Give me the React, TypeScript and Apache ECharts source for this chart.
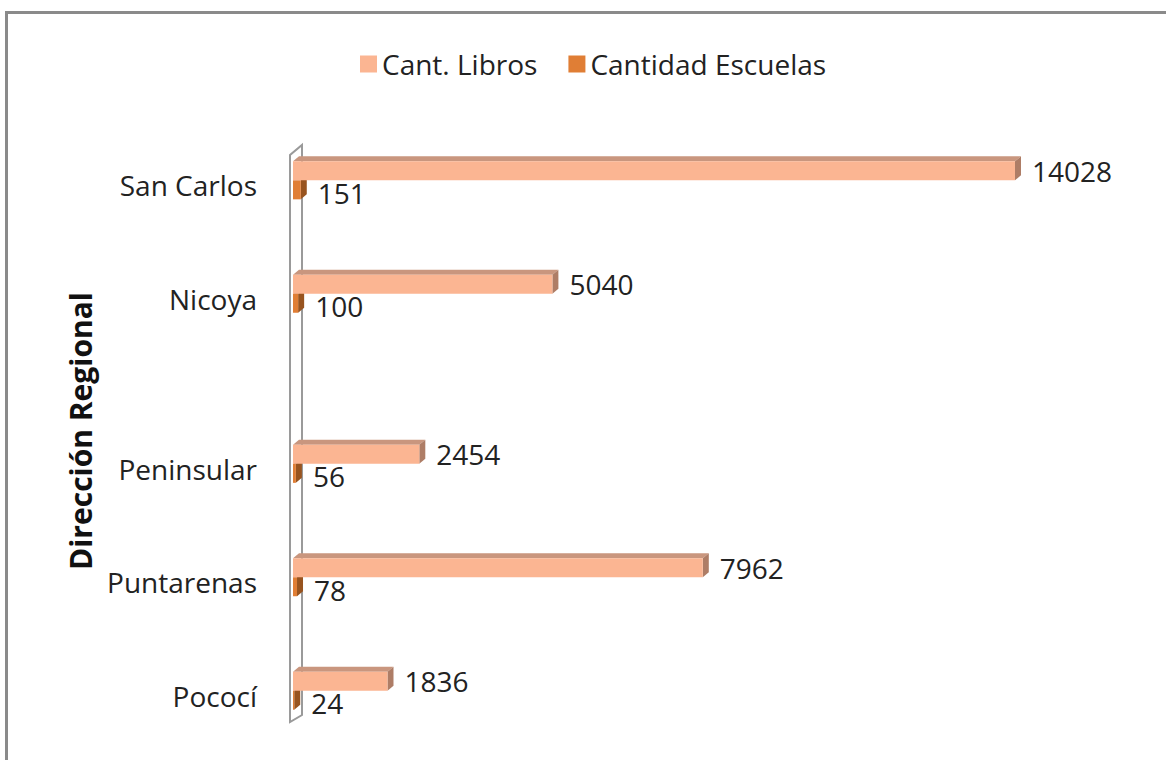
import React, { useEffect, useRef } from "react";
import * as echarts from "echarts";

const categories = ["San Carlos", "Nicoya", "Peninsular", "Puntarenas", "Pococí"];
const libros = [14028, 5040, 2454, 7962, 1836];
const escuelas = [151, 100, 56, 78, 24];
const seriesNames = ["Cant. Libros", "Cantidad Escuelas"];
const axisTitle = "Dirección Regional";
// layout only: slot of each category on the axis (wider gap after Nicoya)
const slots = [0, 2, 5, 7, 9];
const slotCount = 10;

const FONT = '"Open Sans", "Liberation Sans", sans-serif';

function make3DBar(front: string, top: string, side: string, offA: number, offB: number, labelDy: number) {
  return (params: any, api: any) => {
    const v = api.value(0);
    const slot = api.value(1);
    const p0 = api.coord([0, slot]);
    const p1 = api.coord([v, slot]);
    const c = p0[1];
    const x0 = p0[0];
    const x1 = p1[0];
    const y0 = c + offA;
    const y1 = c + offB;
    const dx = 6;
    const dy = -5;
    return {
      type: "group",
      children: [
        {
          type: "polygon",
          shape: { points: [[x0, y0], [x0 + dx, y0 + dy], [x1 + dx, y0 + dy], [x1, y0]] },
          style: { fill: top },
        },
        {
          type: "polygon",
          shape: { points: [[x1, y0], [x1 + dx, y0 + dy], [x1 + dx, y1 + dy], [x1, y1]] },
          style: { fill: side },
        },
        {
          type: "rect",
          shape: { x: x0, y: y0, width: x1 - x0, height: y1 - y0 },
          style: { fill: front },
        },
        {
          type: "text",
          x: x1 + dx + 11,
          y: (y0 + y1) / 2 + labelDy,
          style: {
            text: String(v),
            font: `28px ${FONT}`,
            fill: "#222",
            align: "left",
            verticalAlign: "middle",
          },
        },
      ],
    };
  };
}

export default function App() {
  const ref = useRef<HTMLDivElement>(null);
  useEffect(() => {
    if (!ref.current) return;
    const chart = echarts.init(ref.current, undefined, { renderer: "svg" });
    const axisData: string[] = new Array(slotCount).fill("");
    categories.forEach((c, i) => (axisData[slots[i]] = c));
    chart.setOption({
      animation: false,
      backgroundColor: "#fff",
      textStyle: { fontFamily: FONT },
      graphic: [
        {
          type: "rect",
          z: 0,
          shape: { x: 6.5, y: 12.5, width: 1300, height: 900 },
          style: { fill: "none", stroke: "#8a8a8a", lineWidth: 3 },
        },
        {
          type: "polygon",
          z: 0,
          shape: { points: [[290, 722], [290, 155], [302, 145], [302, 715]] },
          style: { fill: "none", stroke: "#9a9a9a", lineWidth: 2 },
        },
        {
          type: "text",
          z: 1,
          x: 80,
          y: 431,
          rotation: Math.PI / 2,
          style: {
            text: axisTitle,
            font: `bold 30px ${FONT}`,
            fill: "#111",
            align: "center",
            verticalAlign: "middle",
          },
        },
      ],
      legend: {
        left: 355,
        top: 44,
        icon: "rect",
        itemWidth: 17,
        itemHeight: 17,
        itemGap: 31,
        textStyle: { fontSize: 28, color: "#222", fontFamily: FONT, lineHeight: 30 },
        data: seriesNames,
      },
      grid: { left: 293, right: 49.5, top: 157, bottom: 36 },
      xAxis: { type: "value", min: 0, max: 16000, show: false },
      yAxis: {
        type: "category",
        inverse: true,
        data: axisData,
        axisLine: { show: false },
        axisTick: { show: false },
        splitLine: { show: false },
        axisLabel: { margin: 36, fontSize: 28, color: "#222", fontFamily: FONT },
      },
      series: [
        {
          name: seriesNames[0],
          type: "custom",
          z: 3,
          itemStyle: { color: "#FBB592" },
          encode: { x: 0, y: 1 },
          renderItem: make3DBar("#FBB592", "#C9967E", "#AE7D66", -24, -5, 0),
          data: libros.map((v, i) => [v, slots[i]]),
        },
        {
          name: seriesNames[1],
          type: "custom",
          z: 2,
          itemStyle: { color: "#E07E35" },
          encode: { x: 0, y: 1 },
          renderItem: make3DBar("#E07E35", "#B8662A", "#98541F", -5, 14, 3),
          data: escuelas.map((v, i) => [v, slots[i]]),
        },
      ],
    });
    return () => chart.dispose();
  }, []);
  return (
    <div
      ref={ref}
      style={{ position: "fixed", left: 0, top: 0, width: 1166, height: 760 }}
    />
  );
}
